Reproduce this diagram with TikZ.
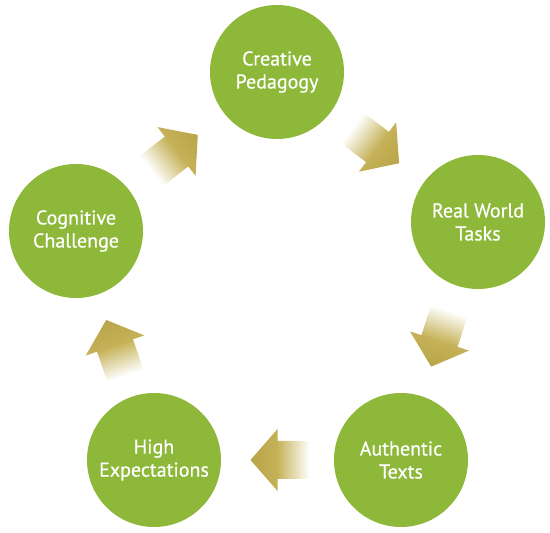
\documentclass[tikz,border=0pt]{standalone}
\usepackage{fontspec}
\setmainfont{PT Sans}
\newfontface\stagefont{PT Sans}[FakeBold=0.5]
\usepackage{xcolor}
\usepackage{tikz}
\usetikzlibrary{calc}

\definecolor{leafgreen}{RGB}{141,184,58}
\definecolor{arrowgold}{RGB}{197,178,88}
\definecolor{arrowgolddark}{RGB}{184,164,72}
\pgfdeclarehorizontalshading{arrowfade}{100bp}{color(0bp)=(white); color(31bp)=(white); color(55bp)=(arrowgold); color(75bp)=(arrowgolddark); color(100bp)=(arrowgolddark)}

\begin{document}
\begin{tikzpicture}[x=1pt, y=1pt,
  stage/.style={circle, fill=leafgreen, minimum size=134pt, inner sep=0pt, text=white, align=center, font=\stagefont\fontsize{20}{23}\selectfont},
  cyclearrow/.style={shading=arrowfade}]
\useasboundingbox (0,0) rectangle (550,533);
% the five stages
\node[stage] (cre) at (277,461) {Creative\\Pedagogy};
\node[stage] (rea) at (478,311) {Real World\\Tasks};
\node[stage] (aut) at (401,73) {Authentic\\Texts};
\node[stage] (hig) at (154,73) {High\\Expectations};
\node[stage] (cog) at (76,302) {Cognitive\\Challenge};
% arrows between them
\coordinate (m1) at ($(cog)!0.5!(cre)$);
\coordinate (m2) at ($(cre)!0.5!(rea)$);
\coordinate (m3) at ($(rea)!0.5!(aut)$);
\coordinate (m4) at ($(aut)!0.5!(hig)$);
\coordinate (m5) at ($(hig)!0.5!(cog)$);
\foreach \m/\a in {m1/38, m2/-37, m3/-108, m4/180, m5/109} {
  \begin{scope}[transform canvas={shift={(\m)}, rotate=\a}]
    \shade[cyclearrow] (-40,19) -- (0,19) -- (0,31) -- (27,0) -- (0,-31) -- (0,-19) -- (-40,-19) -- cycle;
  \end{scope}
}
\end{tikzpicture}
\end{document}
